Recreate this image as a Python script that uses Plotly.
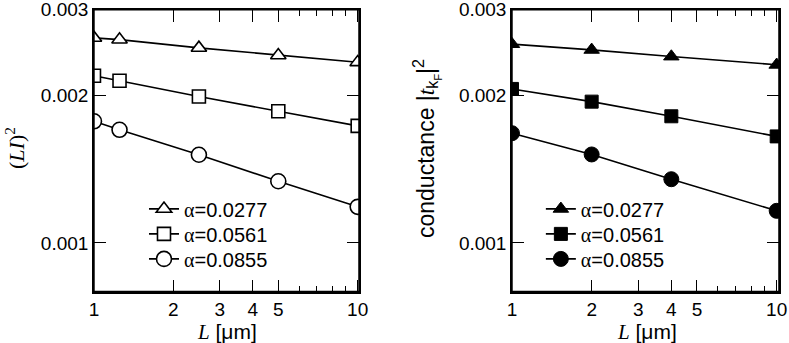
import plotly.graph_objects as go

# data
L_left = [1, 1.25, 2.5, 5, 10]
li2_a1 = [0.002628, 0.002607, 0.002507, 0.002421, 0.002343]
li2_a2 = [0.002198, 0.002147, 0.001993, 0.001860, 0.001736]
li2_a3 = [0.001774, 0.001704, 0.001515, 0.001337, 0.001185]

L_right = [1, 2, 4, 10]
cond_a1 = [0.002552, 0.002484, 0.002407, 0.002315]
cond_a2 = [0.002066, 0.001946, 0.001816, 0.001652]
cond_a3 = [0.001677, 0.001517, 0.001350, 0.001163]

alpha_labels = ['0.0277', '0.0561', '0.0855']
x_tickvals = [1, 2, 3, 4, 5, 10]
x_minor = [6, 7, 8, 9]
y_tickvals = [0.001, 0.002, 0.003]
y_ticktext = ['0.001', '0.002', '0.003']

SANS = 'Liberation Sans, Arial, sans-serif'
SERIF = 'Liberation Serif'

fig = go.Figure()

left_series = [li2_a1, li2_a2, li2_a3]
right_series = [cond_a1, cond_a2, cond_a3]
symbols = ['triangle-up', 'square', 'circle']
sizes = [13.5, 13, 15]


def alpha_name(a):
    return '<span style="font-family:\'%s\'">α</span>=%s' % (SERIF, a)


# one legend per entry so the rows can sit where the reference has them
for i, (ys, sym, sz, a) in enumerate(zip(left_series, symbols, sizes, alpha_labels)):
    fig.add_trace(go.Scatter(
        x=L_left, y=ys, mode='lines+markers', name=alpha_name(a),
        line=dict(color='black', width=1.6),
        marker=dict(symbol=sym, size=sz, color='white',
                    line=dict(color='black', width=1.6)),
        xaxis='x', yaxis='y',
        legend='legend' if i == 0 else 'legend%d' % (i + 1)
    ))

for i, (ys, sym, sz, a) in enumerate(zip(right_series, symbols, sizes, alpha_labels)):
    fig.add_trace(go.Scatter(
        x=L_right, y=ys, mode='lines+markers', name=alpha_name(a),
        line=dict(color='black', width=1.6),
        marker=dict(symbol=sym, size=sz, color='black',
                    line=dict(color='black', width=1)),
        xaxis='x2', yaxis='y2', legend='legend%d' % (i + 4)
    ))

xax = dict(
    type='log', range=[0, 1.005], tickmode='array', tickvals=x_tickvals,
    ticktext=[str(v) for v in x_tickvals],
    ticks='inside', ticklen=12, tickwidth=1.3, tickcolor='black',
    minor=dict(tickmode='array', tickvals=x_minor, ticks='inside',
               ticklen=6, tickwidth=1.3, tickcolor='black', showgrid=False),
    showline=True, linecolor='black', linewidth=1.5, mirror='allticks',
    showgrid=False, zeroline=False, automargin=False,
    ticklabeloverflow='allow',
    tickfont=dict(family=SANS, size=19, color='black'),
)
yax = dict(
    type='log', range=[-3.0996, -2.5228], tickmode='array',
    tickvals=y_tickvals, ticktext=y_ticktext,
    ticks='inside', ticklen=12, tickwidth=1.3, tickcolor='black',
    showline=True, linecolor='black', linewidth=1.5, mirror='allticks',
    showgrid=False, zeroline=False, automargin=False,
    ticklabeloverflow='allow',
    tickfont=dict(family=SANS, size=19, color='black'),
    domain=[0.1501, 0.9715],
)

legend_style = dict(xanchor='left', yanchor='top', bgcolor='rgba(0,0,0,0)',
                    font=dict(family=SANS, size=20, color='black'))
legend_rows_y = [0.448, 0.375, 0.302]

fig.update_layout(
    width=789, height=343,
    margin=dict(l=0, r=0, t=0, b=0),
    paper_bgcolor='white', plot_bgcolor='white',
    showlegend=True,
    xaxis=dict(xax, domain=[0.1191, 0.4550], anchor='y'),
    yaxis=dict(yax, anchor='x'),
    xaxis2=dict(xax, domain=[0.6489, 0.9873], range=[0, 1.0087], anchor='y2'),
    yaxis2=dict(yax, anchor='x2'),
    font=dict(family=SANS, color='black'),
)
for i, ly in enumerate(legend_rows_y):
    key_l = 'legend' if i == 0 else 'legend%d' % (i + 1)
    key_r = 'legend%d' % (i + 4)
    fig.update_layout({key_l: dict(legend_style, x=0.1825, y=ly),
                       key_r: dict(legend_style, x=0.6855, y=ly)})

# frame around each panel
for xr, yr in [('x domain', 'y domain'), ('x2 domain', 'y2 domain')]:
    fig.add_shape(type='rect', xref=xr, yref=yr, x0=0, x1=1, y0=0, y1=1,
                  line=dict(color='black', width=1.5), layer='above')

# axis titles
fig.add_annotation(
    text='(<i>LI</i>)<sup>2</sup>', textangle=-90,
    x=0.019, y=0.5685, xref='paper', yref='paper',
    xanchor='center', yanchor='middle', showarrow=False,
    font=dict(family=SERIF, size=22, color='black'))
fig.add_annotation(
    text='conductance |<span style="font-family:\'%s\'"><i>t</i></span>'
         '<sub>k<sub>F</sub></sub>|<sup>2</sup>' % SERIF,
    textangle=-90, x=0.5412, y=0.5656, xref='paper', yref='paper',
    xanchor='center', yanchor='middle', showarrow=False,
    font=dict(family=SANS, size=23, color='black'))
for xc in [0.2877, 0.8194]:
    fig.add_annotation(
        text='<span style="font-family:\'%s\'"><i>L</i></span> [μm]' % SERIF,
        x=xc, y=0.031, xref='paper', yref='paper',
        xanchor='center', yanchor='middle', showarrow=False,
        font=dict(family=SANS, size=21, color='black'))

fig.write_html("out.html", config={'displayModeBar': False},
               post_script="document.body.style.margin='0';")
